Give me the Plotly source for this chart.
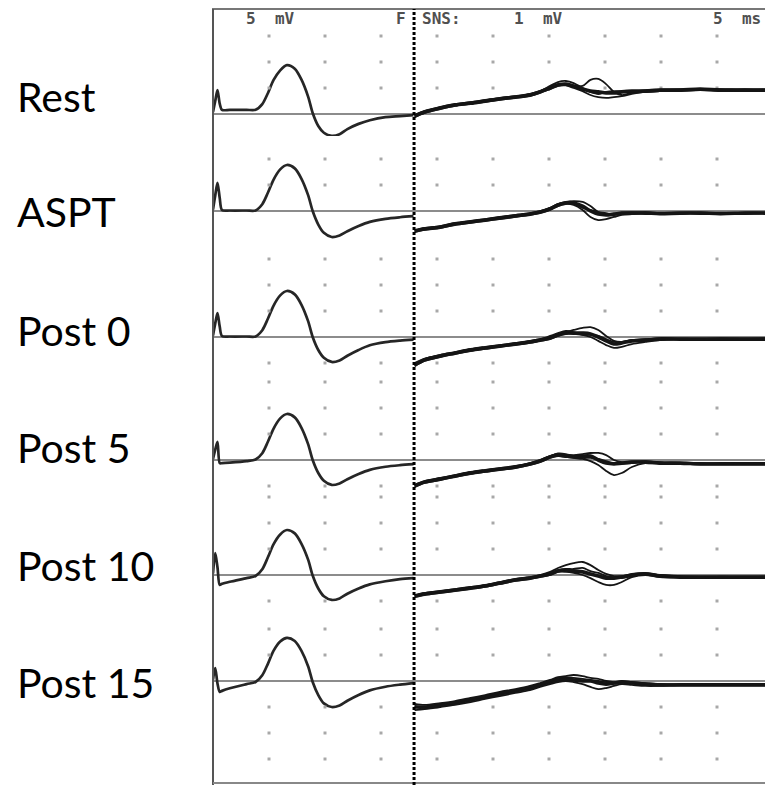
import plotly.graph_objects as go

W, H = 765, 785

LABELS = ["Rest", "ASPT", "Post 0", "Post 5", "Post 10", "Post 15"]

# ---- M-wave (left part, 5 mV/div) : time in ms, amplitude in mV relative to baseline
M_T = [0, 0.2, 0.4, 0.6, 0.8, 1.5, 3.0, 3.8, 4.4, 4.9, 5.4, 6.0, 6.6, 7.3, 7.9,
       8.5, 8.9, 9.4, 9.9, 10.6, 11.3, 12.0, 13.0, 14.0, 15.4, 16.7, 17.9]
M_REST = [0.4, 2.5, 4.6, 2.0, 0.8, 0.8, 0.8, 0.8, 1.9, 4.0, 6.5, 8.4, 9.4, 8.7, 6.6,
          3.3, 0.2, -2.3, -3.6, -4.2, -3.9, -2.9, -1.9, -1.2, -0.6, -0.4, -0.2]
M_ASPT = [0.3, 3.0, 5.4, 2.5, 0.2, 0.1, 0.1, 0.1, 1.3, 3.5, 6.0, 8.0, 8.85, 8.2, 6.2,
          3.0, 0.0, -2.6, -4.2, -5.0, -4.7, -3.9, -2.9, -2.1, -1.5, -1.2, -1.0]
M_POST0 = [0.3, 2.6, 4.6, 2.0, 0.2, 0.1, 0.1, 0.1, 1.3, 3.5, 6.0, 8.0, 8.85, 8.2, 6.2,
           3.0, 0.0, -2.5, -4.0, -4.8, -4.5, -3.6, -2.5, -1.6, -1.0, -0.7, -0.5]
M_POST5 = [0.2, 2.0, 3.5, -0.6, -0.6, -0.5, -0.2, 0.1, 1.3, 3.5, 6.0, 8.0, 8.85, 8.2, 6.2,
           3.0, 0.0, -2.5, -4.0, -4.8, -4.5, -3.7, -2.7, -1.9, -1.3, -1.0, -0.8]
M_POST10 = [0.3, 4.2, 1.5, -1.9, -1.7, -1.3, -0.6, -0.2, 1.1, 3.4, 5.9, 7.8, 8.65, 8.0, 6.0,
            2.9, -0.1, -2.6, -4.1, -4.8, -4.5, -3.6, -2.6, -1.8, -1.2, -0.8, -0.6]
M_POST15 = [0.3, 2.5, -0.5, -2.1, -1.9, -1.4, -0.6, -0.2, 1.1, 3.3, 5.8, 7.6, 8.3, 7.7, 5.8,
            2.8, -0.2, -2.7, -4.3, -5.0, -4.7, -3.8, -2.7, -1.8, -1.1, -0.7, -0.4]

# ---- F-wave sweeps (right part, 1 mV/div): time in ms, amplitude in mV
F_T = [18.0, 18.9, 20.3, 21.6, 23.0, 24.3, 25.6, 27.0, 28.3, 29.2, 30.1, 30.8, 31.5, 32.2,
       33.0, 33.7, 34.4, 35.1, 35.8, 36.5, 37.4, 38.6, 39.9, 41.7, 43.5, 45.3, 47.5, 49.3]
F_REST = [
    [-0.08, 0.08, 0.23, 0.35, 0.42, 0.50, 0.58, 0.65, 0.73, 0.85, 1.00, 1.12, 1.15, 1.08,
     0.96, 0.88, 0.85, 0.81, 0.81, 0.85, 0.88, 0.88, 0.92, 0.92, 0.96, 0.92, 0.92, 0.92],
    [-0.04, 0.12, 0.27, 0.38, 0.46, 0.54, 0.62, 0.69, 0.77, 0.88, 1.04, 1.15, 1.12, 1.08,
     1.08, 1.31, 1.35, 1.15, 0.85, 0.73, 0.81, 0.85, 0.88, 0.92, 0.92, 0.96, 0.92, 0.94],
    [-0.12, 0.04, 0.19, 0.31, 0.38, 0.46, 0.54, 0.62, 0.69, 0.81, 0.96, 1.08, 1.10, 1.00,
     0.88, 0.73, 0.65, 0.62, 0.65, 0.69, 0.77, 0.85, 0.88, 0.88, 0.92, 0.88, 0.90, 0.90],
    [-0.06, 0.10, 0.25, 0.36, 0.44, 0.52, 0.60, 0.67, 0.75, 0.88, 1.08, 1.23, 1.27, 1.19,
     1.00, 0.85, 0.77, 0.85, 0.88, 0.88, 0.85, 0.92, 0.94, 0.96, 0.94, 0.94, 0.96, 0.94],
]
F_ASPT = [
    [-0.77, -0.69, -0.62, -0.50, -0.42, -0.35, -0.27, -0.19, -0.12, -0.04, 0.08, 0.23, 0.31, 0.31,
     0.19, 0.00, -0.12, -0.15, -0.12, -0.08, -0.08, -0.08, -0.10, -0.08, -0.08, -0.10, -0.08, -0.08],
    [-0.73, -0.65, -0.58, -0.46, -0.38, -0.31, -0.23, -0.15, -0.08, 0.00, 0.12, 0.27, 0.35, 0.38,
     0.35, 0.19, -0.04, -0.12, -0.10, -0.06, -0.04, -0.06, -0.08, -0.06, -0.06, -0.08, -0.06, -0.06],
    [-0.81, -0.73, -0.65, -0.54, -0.46, -0.38, -0.31, -0.23, -0.15, -0.08, 0.04, 0.19, 0.27, 0.23,
     0.04, -0.23, -0.35, -0.31, -0.23, -0.15, -0.12, -0.10, -0.12, -0.10, -0.10, -0.12, -0.10, -0.10],
    [-0.75, -0.67, -0.60, -0.48, -0.40, -0.33, -0.25, -0.17, -0.10, -0.02, 0.12, 0.27, 0.33, 0.27,
     0.12, 0.04, -0.04, -0.08, -0.15, -0.12, -0.08, -0.04, -0.08, -0.10, -0.06, -0.08, -0.10, -0.08],
]
F_POST0 = [
    [-1.08, -0.88, -0.73, -0.62, -0.50, -0.42, -0.35, -0.27, -0.19, -0.12, -0.04, 0.08, 0.15, 0.15,
     0.15, 0.12, 0.00, -0.15, -0.27, -0.23, -0.15, -0.12, -0.08, -0.08, -0.08, -0.08, -0.08, -0.08],
    [-1.04, -0.85, -0.69, -0.58, -0.46, -0.38, -0.31, -0.23, -0.15, -0.08, 0.00, 0.12, 0.19, 0.27,
     0.35, 0.38, 0.27, 0.04, -0.15, -0.19, -0.12, -0.08, -0.06, -0.06, -0.06, -0.06, -0.06, -0.06],
    [-1.12, -0.92, -0.77, -0.65, -0.54, -0.46, -0.38, -0.31, -0.23, -0.15, -0.08, 0.04, 0.12, 0.12,
     0.08, 0.00, -0.15, -0.31, -0.42, -0.38, -0.27, -0.19, -0.12, -0.10, -0.10, -0.10, -0.10, -0.10],
    [-1.00, -0.83, -0.71, -0.60, -0.48, -0.40, -0.33, -0.25, -0.17, -0.10, 0.04, 0.15, 0.23, 0.19,
     0.08, 0.08, 0.04, -0.08, -0.19, -0.19, -0.12, -0.10, -0.04, -0.06, -0.08, -0.04, -0.06, -0.04],
]
F_POST5 = [
    [-1.00, -0.85, -0.73, -0.62, -0.50, -0.42, -0.35, -0.27, -0.15, -0.04, 0.12, 0.19, 0.15, 0.12,
     0.15, 0.15, 0.00, -0.12, -0.15, -0.12, -0.08, -0.08, -0.12, -0.12, -0.15, -0.15, -0.15, -0.15],
    [-0.96, -0.81, -0.69, -0.58, -0.46, -0.38, -0.31, -0.23, -0.12, 0.00, 0.15, 0.23, 0.19, 0.19,
     0.23, 0.27, 0.27, 0.19, 0.00, -0.08, -0.06, -0.06, -0.08, -0.10, -0.12, -0.12, -0.12, -0.12],
    [-1.04, -0.88, -0.77, -0.65, -0.54, -0.46, -0.38, -0.31, -0.19, -0.08, 0.08, 0.15, 0.12, 0.08,
     0.04, -0.04, -0.19, -0.42, -0.58, -0.50, -0.27, -0.12, -0.15, -0.15, -0.17, -0.17, -0.17, -0.17],
    [-0.98, -0.83, -0.71, -0.60, -0.48, -0.40, -0.33, -0.25, -0.13, -0.02, 0.15, 0.25, 0.23, 0.15,
     0.08, 0.08, 0.04, -0.04, -0.12, -0.15, -0.12, -0.04, -0.10, -0.14, -0.13, -0.13, -0.16, -0.13],
]
F_POST10 = [
    [-0.81, -0.73, -0.65, -0.58, -0.50, -0.42, -0.31, -0.19, -0.12, -0.04, 0.04, 0.15, 0.19, 0.15,
     0.12, 0.04, -0.04, -0.12, -0.12, -0.08, 0.00, 0.04, -0.04, -0.08, -0.08, -0.08, -0.08, -0.08],
    [-0.77, -0.69, -0.62, -0.54, -0.46, -0.38, -0.27, -0.15, -0.08, 0.00, 0.12, 0.27, 0.38, 0.46,
     0.50, 0.38, 0.19, 0.04, -0.04, -0.04, 0.04, 0.08, 0.00, -0.04, -0.06, -0.06, -0.06, -0.06],
    [-0.85, -0.77, -0.69, -0.62, -0.54, -0.46, -0.35, -0.23, -0.15, -0.08, 0.00, 0.12, 0.12, 0.08,
     0.00, -0.12, -0.27, -0.38, -0.38, -0.27, -0.08, 0.00, -0.08, -0.10, -0.10, -0.10, -0.10, -0.10],
    [-0.79, -0.71, -0.63, -0.56, -0.48, -0.40, -0.29, -0.17, -0.10, -0.02, 0.08, 0.19, 0.23, 0.23,
     0.27, 0.15, 0.08, -0.04, -0.08, -0.12, -0.04, 0.04, 0.00, -0.06, -0.10, -0.06, -0.08, -0.06],
]
F_POST15 = [
    [-1.00, -1.00, -0.92, -0.85, -0.73, -0.62, -0.50, -0.38, -0.27, -0.15, -0.04, 0.04, 0.08, 0.04,
     0.00, 0.00, -0.08, -0.12, -0.08, -0.04, -0.08, -0.12, -0.15, -0.15, -0.15, -0.15, -0.15, -0.15],
    [-0.88, -0.92, -0.85, -0.77, -0.65, -0.54, -0.42, -0.31, -0.19, -0.08, 0.04, 0.15, 0.19, 0.23,
     0.19, 0.12, 0.08, 0.00, -0.04, 0.00, -0.04, -0.08, -0.12, -0.12, -0.12, -0.12, -0.12, -0.12],
    [-1.12, -1.08, -1.00, -0.92, -0.81, -0.69, -0.58, -0.46, -0.35, -0.23, -0.12, -0.04, 0.00, -0.04,
     -0.12, -0.23, -0.31, -0.27, -0.19, -0.12, -0.15, -0.19, -0.19, -0.17, -0.17, -0.17, -0.17, -0.17],
    [-0.96, -1.04, -0.96, -0.81, -0.69, -0.58, -0.46, -0.35, -0.23, -0.12, 0.00, 0.12, 0.15, 0.12,
     0.08, 0.04, 0.00, -0.04, -0.10, -0.08, -0.04, -0.10, -0.13, -0.14, -0.13, -0.15, -0.14, -0.13],
]

M_SERIES = [M_REST, M_ASPT, M_POST0, M_POST5, M_POST10, M_POST15]
F_SERIES = [F_REST, F_ASPT, F_POST0, F_POST5, F_POST10, F_POST15]

# grid dot columns (ms) and rows (divisions relative to each baseline)
GRID_MS = [5, 10, 15, 20, 25, 30, 35, 40, 45]
GRID_ROWS = [[1, 2, 3], [1, 2], [1, 2, 3, -1], [1, 2, 3, -1], [1, 2, 3, -1], [1, 2, -1, -2, -3]]

F_MARK_MS = 17.95          # split-screen cursor position
M_MV_PER_DIV = 5
F_MV_PER_DIV = 1
MS_PER_DIV = 5

# ---- layout geometry (pixels)
X0_PX = 213
PX_PER_DIV_X = 56
PX_PER_DIV_Y = 26
PANELS = [(10, 136, 114), (136, 254, 211), (254, 374, 337),
          (374, 492, 460), (492, 612, 575), (612, 785, 681)]  # (top, bottom, baseline)
LABEL_Y = [97, 212, 330, 447, 565, 682]
TOP_PX = 9


def px_x(px):
    return px / W


def px_y(py):
    return 1 - py / H


fig = go.Figure()
layout = dict(
    width=W, height=H, margin=dict(l=0, r=0, t=0, b=0),
    paper_bgcolor="white", plot_bgcolor="rgba(0,0,0,0)", showlegend=False,
    xaxis=dict(domain=[px_x(X0_PX), 1],
               range=[0, (W - X0_PX) / PX_PER_DIV_X * MS_PER_DIV],
               visible=False, fixedrange=True),
)
shapes = []
annotations = []

for i, (top, bot, base) in enumerate(PANELS):
    m_id, f_id = 2 * i + 1, 2 * i + 2
    m_key = "yaxis" if m_id == 1 else f"yaxis{m_id}"
    f_key = f"yaxis{f_id}"
    m_ref = "y" if m_id == 1 else f"y{m_id}"
    f_ref = f"y{f_id}"
    up_div = (base - top) / PX_PER_DIV_Y
    dn_div = (bot - base) / PX_PER_DIV_Y
    dom = [px_y(bot), px_y(top)]
    layout[m_key] = dict(domain=dom, range=[-dn_div * M_MV_PER_DIV, up_div * M_MV_PER_DIV],
                         visible=False, fixedrange=True, anchor="x")
    layout[f_key] = dict(domain=dom, range=[-dn_div * F_MV_PER_DIV, up_div * F_MV_PER_DIV],
                         visible=False, fixedrange=True, anchor="x", overlaying=m_ref)

    # grid dots
    gx, gy = [], []
    for r in GRID_ROWS[i]:
        for c in GRID_MS:
            gx.append(c)
            gy.append(r * F_MV_PER_DIV)
    fig.add_trace(go.Scatter(x=gx, y=gy, mode="markers", xaxis="x", yaxis=f_ref,
                             marker=dict(symbol="square", size=3, color="#a8a8a8"),
                             hoverinfo="skip"))

    # baseline
    shapes.append(dict(type="line", xref="x domain", x0=0, x1=1, yref=m_ref, y0=0, y1=0,
                       line=dict(color="#8c8c8c", width=2), layer="below"))

    # M wave
    fig.add_trace(go.Scatter(x=M_T, y=M_SERIES[i], mode="lines", xaxis="x", yaxis=m_ref,
                             line=dict(color="#262626", width=2.7, shape="spline", smoothing=0.8),
                             hoverinfo="skip"))
    # F-wave sweeps
    for k, sweep in enumerate(F_SERIES[i]):
        fig.add_trace(go.Scatter(x=F_T, y=sweep, mode="lines", xaxis="x", yaxis=f_ref,
                                 line=dict(color="#151515", width=3.6 if k == 0 else 1.8,
                                           shape="spline", smoothing=0.9),
                                 hoverinfo="skip"))

    annotations.append(dict(text=LABELS[i], x=px_x(15), y=px_y(LABEL_Y[i]),
                            xref="paper", yref="paper", xanchor="left", yanchor="middle",
                            showarrow=False, font=dict(family="Lato", size=41, color="black")))

# frame lines and split cursor
shapes.append(dict(type="line", xref="paper", yref="paper", x0=px_x(X0_PX - 1), x1=1,
                   y0=px_y(TOP_PX), y1=px_y(TOP_PX), line=dict(color="#777777", width=2)))
shapes.append(dict(type="line", xref="paper", yref="paper", x0=px_x(X0_PX), x1=px_x(X0_PX),
                   y0=px_y(TOP_PX), y1=0, line=dict(color="#555555", width=2)))
shapes.append(dict(type="line", xref="paper", yref="paper", x0=px_x(X0_PX), x1=1,
                   y0=px_y(H - 2), y1=px_y(H - 2), line=dict(color="#888888", width=2)))
shapes.append(dict(type="line", xref="x", yref="paper", x0=F_MARK_MS, x1=F_MARK_MS,
                   y0=0, y1=px_y(TOP_PX), line=dict(color="black", width=3, dash="3px,2px")))

HEADER = [("5  mV", 244), ("F", 394), ("SNS:", 420), ("1  mV", 512), ("5  ms", 711)]
for txt, xpx in HEADER:
    annotations.append(dict(text=txt, x=px_x(xpx), y=px_y(19), xref="paper", yref="paper",
                            xanchor="left", yanchor="middle", showarrow=False,
                            font=dict(family="DejaVu Sans Mono", size=16, color="#505050",
                                      weight="bold")))

layout["shapes"] = shapes
layout["annotations"] = annotations
fig.update_layout(**layout)
fig.write_html("out.html")
